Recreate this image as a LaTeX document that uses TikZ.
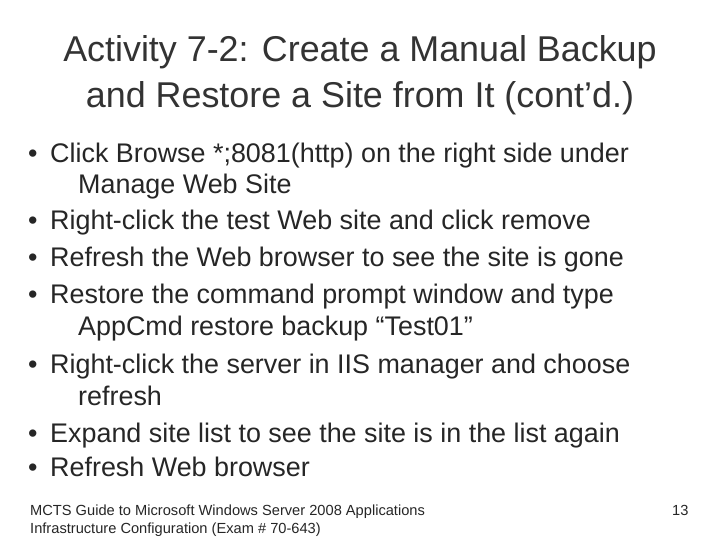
\documentclass[tikz,border=0pt]{standalone}
\usepackage{fontspec}
\setmainfont{Liberation Sans}
\begin{document}
\begin{tikzpicture}[x=1bp,y=-1bp,
  ttl/.style={font=\fontsize{36}{40}\selectfont,anchor=center,text=black!80},
  bl/.style={font=\fontsize{27}{30}\selectfont,anchor=base west,inner sep=0,text=black!85},
  ft/.style={font=\fontsize{14.7}{17}\selectfont,anchor=base west,inner sep=0,text=black!85}]
\useasboundingbox[fill=white] (0,0) rectangle (720,540);
\node[ttl] (t1) at (360,52) {Activity 7-2: Create a Manual Backup};
\node[ttl] (t2) at (360,98) {and Restore a Site from It (cont’d.)};
\foreach \y/\b/\t [count=\i] in {
  163/1/{Click Browse *;8081(http) on the right side under},
  194/0/{Manage Web Site},
  230/1/{Right-click the test Web site and click remove},
  267/1/{Refresh the Web browser to see the site is gone},
  303/1/{Restore the command prompt window and type},
  335/0/{AppCmd restore backup “Test01”},
  373/1/{Right-click the server in IIS manager and choose},
  405/0/{refresh},
  442/1/{Expand site list to see the site is in the list again},
  476/1/{Refresh Web browser}}{
  \ifnum\b=1
    \node[bl] (b\i) at (28,\y) {•};
    \node[bl] (l\i) at (50,\y) {\t};
  \else
    \node[bl] (l\i) at (78,\y) {\t};
  \fi
}
\node[ft] (f1) at (30,515) {MCTS Guide to Microsoft Windows Server 2008 Applications};
\node[ft] (f2) at (30,533) {Infrastructure Configuration (Exam \# 70-643)};
\node[ft] (pg) at (672,515) {13};
\end{tikzpicture}
\end{document}
